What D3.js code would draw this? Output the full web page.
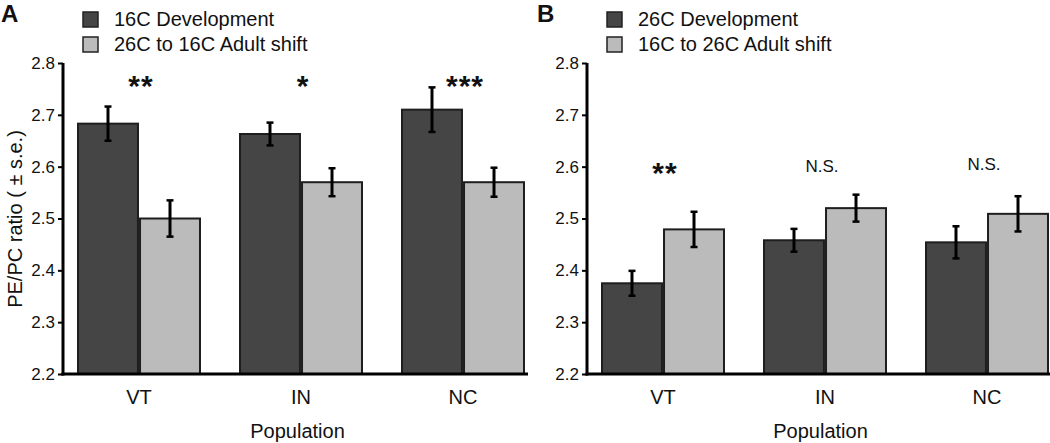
<!DOCTYPE html>
<html>
<head>
<meta charset="utf-8">
<script src="https://cdn.jsdelivr.net/npm/d3@7"></script>
<style>
  html, body { margin: 0; padding: 0; background: #fff; }
  svg { display: block; font-family: "Liberation Sans", Arial, sans-serif; }
</style>
</head>
<body>
<svg id="chart" width="1050" height="443"></svg>
<script>
// ---- data ----
const categories = ["VT", "IN", "NC"];
const yTicks = [2.2, 2.3, 2.4, 2.5, 2.6, 2.7, 2.8];

const legendA = ["16C Development", "26C to 16C Adult shift"];
const devA = [2.683, 2.663, 2.710];
const devAErr = [0.033, 0.022, 0.043];
const shiftA = [2.500, 2.570, 2.570];
const shiftAErr = [0.035, 0.027, 0.028];
const sigA = ["**", "*", "***"];

const legendB = ["26C Development", "16C to 26C Adult shift"];
const devB = [2.375, 2.458, 2.454];
const devBErr = [0.024, 0.022, 0.031];
const shiftB = [2.479, 2.520, 2.509];
const shiftBErr = [0.034, 0.026, 0.034];
const sigB = ["**", "N.S.", "N.S."];

const colors = ["#454545", "#bbbbbb"];

const svg = d3.select("#chart");

function panel(opts) {
  const g = svg.append("g");
  const ax0 = opts.x0, ax1 = opts.x1;
  const y = d3.scaleLinear().domain([2.2, 2.8]).range([374, 63]);
  const x = d3.scaleBand().domain(categories)
    .range([ax0 - 5, ax0 + 481]).paddingInner(0.247).paddingOuter(0.1235);
  const xs = d3.scaleBand().domain([0, 1]).range([0, x.bandwidth()]).paddingInner(0.033);

  const series = [
    { vals: opts.dev, errs: opts.devErr },
    { vals: opts.shift, errs: opts.shiftErr }
  ];

  // bars
  series.forEach((s, si) => {
    g.selectAll(null).data(categories).enter().append("rect")
      .attr("x", (c) => x(c) + xs(si))
      .attr("y", (c, i) => y(s.vals[i]))
      .attr("width", xs.bandwidth())
      .attr("height", (c, i) => y(2.2) - y(s.vals[i]))
      .attr("fill", colors[si])
      .attr("stroke", "#1e1e1e")
      .attr("stroke-width", 2);
  });

  // error bars
  series.forEach((s, si) => {
    categories.forEach((c, i) => {
      const cx = x(c) + xs(si) + xs.bandwidth() / 2;
      const t = y(s.vals[i] + s.errs[i]), b = y(s.vals[i] - s.errs[i]);
      g.append("line").attr("x1", cx).attr("x2", cx).attr("y1", t).attr("y2", b)
        .attr("stroke", "#000").attr("stroke-width", 3);
      [t, b].forEach(yy => g.append("line")
        .attr("x1", cx - 3.5).attr("x2", cx + 3.5).attr("y1", yy).attr("y2", yy)
        .attr("stroke", "#000").attr("stroke-width", 2.5));
    });
  });

  // y axis
  const yAxis = d3.axisLeft(y).tickValues(yTicks).tickFormat(d3.format(".1f"))
    .tickSize(5).tickSizeOuter(0).tickPadding(3);
  const ya = g.append("g").attr("transform", `translate(${ax0},0)`).call(yAxis);
  ya.select(".domain").attr("stroke-width", 3).attr("d", `M0,${y(2.8)}V${y(2.2) + 1.5}`);
  ya.selectAll(".tick line").attr("stroke-width", 2);
  ya.selectAll(".tick text").attr("font-size", 17).attr("fill", "#111")
    .attr("font-family", "Liberation Sans, Arial, sans-serif");

  // x axis line
  g.append("line").attr("x1", ax0 - 1.5).attr("x2", ax1).attr("y1", y(2.2)).attr("y2", y(2.2))
    .attr("stroke", "#000").attr("stroke-width", 3);

  // x labels
  g.selectAll(null).data(categories).enter().append("text")
    .attr("x", c => x(c) + x.bandwidth() / 2)
    .attr("y", 404)
    .attr("text-anchor", "middle").attr("font-size", 20).attr("fill", "#111")
    .text(c => c);

  g.append("text").attr("x", (ax0 + ax1) / 2 + 2).attr("y", 438)
    .attr("text-anchor", "middle").attr("font-size", 20).attr("fill", "#111")
    .text("Population");

  // significance
  opts.sig.forEach((s, i) => {
    const isStar = s.indexOf("*") === 0;
    g.append("text")
      .attr("x", x(categories[i]) + x.bandwidth() / 2 + (isStar ? 2 : -3))
      .attr("y", isStar ? y(opts.sigStarVal) + 4 : y(opts.sigTextVal) + (i === 2 ? -2 : 0))
      .attr("text-anchor", "middle")
      .attr("font-size", isStar ? 30 : 17)
      .attr("font-weight", isStar ? "bold" : "normal")
      .attr("letter-spacing", isStar ? 1 : 0)
      .attr("fill", "#111")
      .text(s);
  });

  // legend
  opts.legend.forEach((t, i) => {
    g.append("rect").attr("x", ax0 + 20).attr("y", 12 + i * 25).attr("width", 15).attr("height", 15)
      .attr("fill", colors[i]).attr("stroke", "#222").attr("stroke-width", 1.5);
    g.append("text").attr("x", ax0 + 51).attr("y", 26 + i * 25)
      .attr("font-size", 20).attr("fill", "#111").text(t);
  });

  // panel letter
  g.append("text").attr("x", opts.letterX).attr("y", 22)
    .attr("font-size", 24).attr("font-weight", "bold").attr("fill", "#111")
    .text(opts.letter);
}

panel({ x0: 63, x1: 528, dev: devA, devErr: devAErr, shift: shiftA, shiftErr: shiftAErr,
        sig: sigA, legend: legendA, letter: "A", letterX: 1, sigStarVal: 2.745, sigTextVal: 2.745 });
panel({ x0: 587, x1: 1050, dev: devB, devErr: devBErr, shift: shiftB, shiftErr: shiftBErr,
        sig: sigB, legend: legendB, letter: "B", letterX: 537, sigStarVal: 2.577, sigTextVal: 2.59 });

// y axis title
svg.append("text")
  .attr("transform", "translate(22,219) rotate(-90)")
  .attr("text-anchor", "middle").attr("font-size", 20).attr("fill", "#111")
  .text("PE/PC ratio ( ± s.e.)");
</script>
</body>
</html>
